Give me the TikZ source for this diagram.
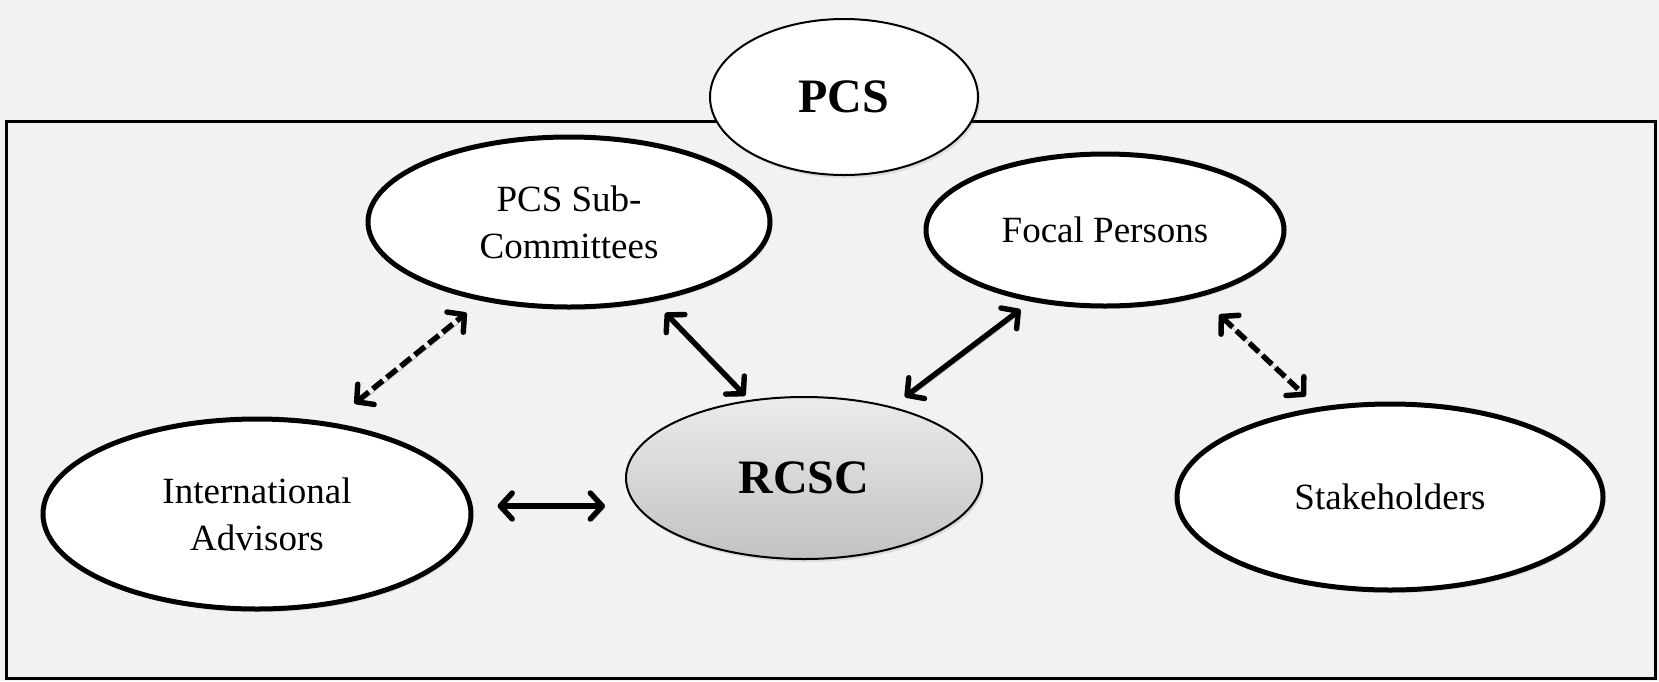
\documentclass[tikz,border=0pt]{standalone}
\usepackage{fontspec}
\setmainfont{Liberation Serif}
\usetikzlibrary{arrows.meta,shapes.geometric,shadows}
\definecolor{bggray}{HTML}{F2F2F2}
\definecolor{rcsctop}{HTML}{EBEBEB}
\definecolor{rcscbot}{HTML}{C2C2C2}

\begin{document}
\begin{tikzpicture}[x=0.5pt,y=-0.5pt,
  group/.style={ellipse,draw,fill=white,inner sep=0pt,line width=2.5pt,
    font=\fontsize{18.5}{23.5}\selectfont,align=center,
    drop shadow={shadow xshift=1pt,shadow yshift=-1.5pt,opacity=0.2}},
  council/.style={ellipse,draw,inner sep=0pt,line width=1pt,
    font=\fontsize{24}{28}\selectfont\bfseries,
    drop shadow={shadow xshift=1pt,shadow yshift=-1.5pt,opacity=0.2}},
  link/.style={<->,line width=2.7pt,
    >={Straight Barb[length=6pt,width=13pt,line width=2.7pt,round]},
    preaction={draw=black!25,transform canvas={shift={(1pt,-1.2pt)}}}},
  loose/.style={link,dash pattern=on 6.5pt off 2.5pt}]
  \fill[bggray] (0,0) rectangle (1659,681);
  \draw[line width=1.5pt] (6,121.5) rectangle (1655.5,678);
  \node[council,fill=white,minimum width=134pt,minimum height=78pt] (pcs) at (844,97) {PCS};
  \node[group,minimum width=201pt,minimum height=85pt] (sub) at (569,222) {PCS Sub-\\Committees};
  \node[group,minimum width=179pt,minimum height=76pt] (focal) at (1105,230) {Focal Persons};
  \node[group,minimum width=214pt,minimum height=95pt] (iadv) at (257,514) {International\\Advisors};
  \node[council,top color=rcsctop,bottom color=rcscbot,minimum width=178pt,minimum height=81pt] (rcsc) at (804,478) {RCSC};
  \node[group,minimum width=213pt,minimum height=93pt] (stake) at (1390,497) {Stakeholders};
  % links between the groups
  \draw[loose,shorten <=15pt,shorten >=9.5pt] (iadv.51) -- (sub.222);
  \draw[link,shorten <=8pt,shorten >=3pt] (sub.317) -- (rcsc.125);
  \draw[link,shorten <=6.5pt,shorten >=8pt] (focal.224) -- (rcsc.39);
  \draw[loose,shorten <=13pt,shorten >=8pt] (focal.325) -- (stake.129);
  \draw[link,shorten <=12pt,shorten >=10pt] ([yshift=4pt]iadv.east) -- ([yshift=4pt]iadv.east -| rcsc.west);
\end{tikzpicture}
\end{document}
